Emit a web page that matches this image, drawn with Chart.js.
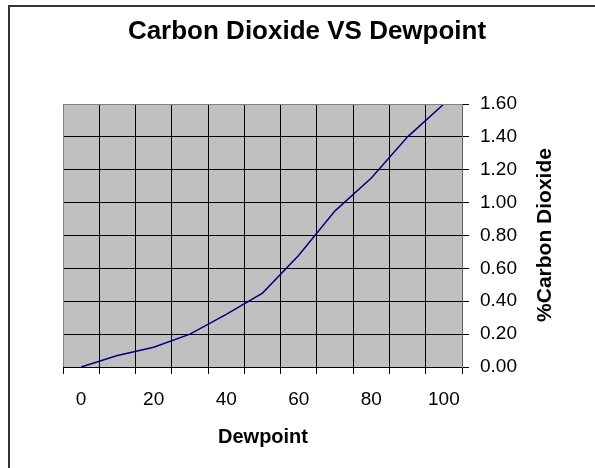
<!DOCTYPE html>
<html>
<head>
<meta charset="utf-8">
<script src="https://cdn.jsdelivr.net/npm/chart.js@4"></script>
<style>
  body { margin: 0; background: #fff; }
  #wrap { position: relative; width: 595px; height: 468px; overflow: hidden; }
  #frame { position: absolute; left: 8px; top: 5px; width: 700px; height: 600px;
           border-left: 2px solid #333; border-top: 2px solid #333; }
  canvas { position: absolute; left: 0; top: 0; }
</style>
</head>
<body>
<div id="wrap">
  <div id="frame"></div>
  <canvas id="grafico" width="595" height="468"></canvas>
</div>
<script>
// DADOS
const dewpoint = ["0", "10", "20", "30", "40", "50", "60", "70", "80", "90", "100"];
const co2 = [0, 0.07, 0.12, 0.20, 0.32, 0.45, 0.68, 0.95, 1.15, 1.40, 1.60];
const yTicks = [0, 0.2, 0.4, 0.6, 0.8, 1.0, 1.2, 1.4, 1.6];

const chartTitle = "Carbon Dioxide VS Dewpoint";
const yTitle = "%Carbon Dioxide";
const xTitle = "Dewpoint";

const FONT = "Arial, 'Liberation Sans', sans-serif";

// fundo cinza, borda e textos
const excelLook = {
  id: "excelLook",
  beforeDraw(chart) {
    const { ctx, chartArea: a } = chart;
    ctx.save();
    ctx.fillStyle = "#c0c0c0";
    ctx.fillRect(a.left, a.top, a.right - a.left, a.bottom - a.top);
    ctx.restore();
  },
  afterDraw(chart) {
    const { ctx, chartArea: a } = chart;
    ctx.save();
    ctx.strokeStyle = "#808080";
    ctx.lineWidth = 1;
    ctx.beginPath();
    ctx.moveTo(a.left + 0.5, a.bottom);
    ctx.lineTo(a.left + 0.5, a.top + 0.5);
    ctx.lineTo(a.right, a.top + 0.5);
    ctx.stroke();

    ctx.fillStyle = "#000";
    ctx.textAlign = "center";
    ctx.textBaseline = "middle";
    ctx.font = "bold 26px " + FONT;
    ctx.fillText(chartTitle, 307, 32);

    ctx.font = "bold 20px " + FONT;
    ctx.fillText(xTitle, 263, 437);

    ctx.font = "bold 21px " + FONT;
    ctx.translate(545, 235);
    ctx.rotate(-Math.PI / 2);
    ctx.fillText(yTitle, 0, 0);
    ctx.restore();
  }
};

new Chart(document.getElementById("grafico"), {
  type: "line",
  data: {
    labels: dewpoint,
    datasets: [
      {
        label: yTitle,
        data: co2,
        borderColor: "#000080",
        borderWidth: 1.5,
        pointRadius: 0,
        tension: 0,
        fill: false
      }
    ]
  },
  options: {
    responsive: false,
    animation: false,
    layout: { padding: { left: 63, top: 104, right: 0, bottom: 0 } },
    plugins: {
      legend: { display: false },
      title: { display: false },
      tooltip: { enabled: false }
    },
    scales: {
      x: {
        offset: true,
        grid: { offset: true, color: "#000", lineWidth: 1, tickLength: 7, tickColor: "#000" },
        border: { color: "#000" },
        ticks: {
          autoSkip: false,
          maxRotation: 0,
          padding: 14,
          color: "#000",
          font: { size: 19, family: FONT },
          callback: function (value, index) {
            return index % 2 === 0 ? dewpoint[index] : "";
          }
        },
        afterFit(scale) { scale.height = 101; }
      },
      y: {
        position: "right",
        min: 0,
        max: 1.6,
        afterBuildTicks(scale) {
          scale.ticks = yTicks.map(v => ({ value: v }));
        },
        grid: { color: "#000", lineWidth: 1, tickLength: 7, tickColor: "#000" },
        border: { color: "#606060" },
        ticks: {
          padding: 11,
          color: "#000",
          font: { size: 19, family: FONT },
          callback: v => Number(v).toFixed(2)
        },
        afterFit(scale) { scale.width = 133; }
      }
    }
  },
  plugins: [excelLook]
});
</script>
</body>
</html>
